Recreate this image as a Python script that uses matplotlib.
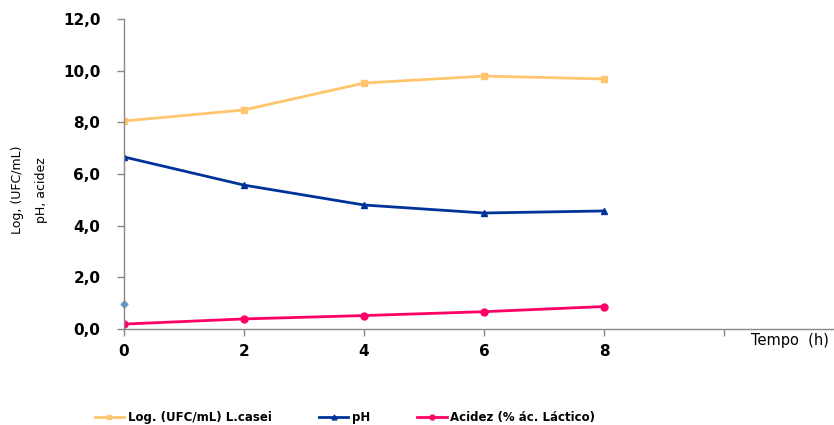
import matplotlib
matplotlib.use('Agg')
import matplotlib.pyplot as plt
from matplotlib.ticker import FuncFormatter

tiempo = [0, 2, 4, 6, 8]
log_ufc = [8.05, 8.48, 9.52, 9.79, 9.68]
ph = [6.66, 5.57, 4.80, 4.49, 4.57]
acidez = [0.19, 0.39, 0.52, 0.67, 0.87]
# stray point at t=0
extra_x = [0]
extra_y = [0.98]

labels = ['Log. (UFC/mL) L.casei', 'pH', 'Acidez (% ác. Láctico)']

fig = plt.figure(figsize=(8.34, 4.25), dpi=100)
ax = fig.add_axes([124 / 834, 96 / 425, 720 / 834, 310 / 425])

ax.plot(tiempo, log_ufc, color='#FFC66D', lw=2, marker='s', ms=5, label=labels[0])
ax.plot(tiempo, ph, color='#003399', lw=2, marker='^', ms=5, label=labels[1])
ax.plot(tiempo, acidez, color='#FF0066', lw=2, marker='o', ms=5, label=labels[2])
ax.plot(extra_x, extra_y, ls='none', marker='D', ms=3.5, color='#5B9BD5', clip_on=False)

ax.set_xlim(0, 12)
ax.set_ylim(0, 12)
ax.set_xticks([0, 2, 4, 6, 8, 10])
ax.set_xticklabels(['0', '2', '4', '6', '8', ''])
ax.set_yticks([0, 2, 4, 6, 8, 10, 12])
ax.yaxis.set_major_formatter(FuncFormatter(lambda v, p: '{:.1f}'.format(v).replace('.', ',')))

for s in ['top', 'right']:
    ax.spines[s].set_visible(False)
for s in ['left', 'bottom']:
    ax.spines[s].set_color('#888888')
    ax.spines[s].set_linewidth(1)

ax.tick_params(axis='both', colors='#888888', length=5, width=1, labelcolor='black')
for lab in ax.get_xticklabels() + ax.get_yticklabels():
    lab.set_fontweight('bold')
    lab.set_fontsize(11)
ax.tick_params(axis='y', pad=12)
ax.tick_params(axis='x', pad=6)

fig.text(790 / 834, 1 - 341 / 425, 'Tempo  (h)', ha='center', va='center', fontsize=10.5)
fig.text(18 / 834, 1 - 190 / 425, 'Log, (UFC/mL)', rotation=90, ha='center', va='center',
         fontsize=9, family='Liberation Sans Narrow')
fig.text(42 / 834, 1 - 190 / 425, 'pH, acidez', rotation=90, ha='center', va='center',
         fontsize=9, family='Liberation Sans Narrow')

leg = fig.legend(loc='center', bbox_to_anchor=(345 / 834, 1 - 418 / 425), ncol=3, frameon=False,
                 prop={'weight': 'bold', 'size': 8.5}, columnspacing=4.0, handlelength=2.5,
                 handletextpad=0.3, markerscale=0.7, borderpad=0.2)

fig.savefig('out.png', dpi=100)
